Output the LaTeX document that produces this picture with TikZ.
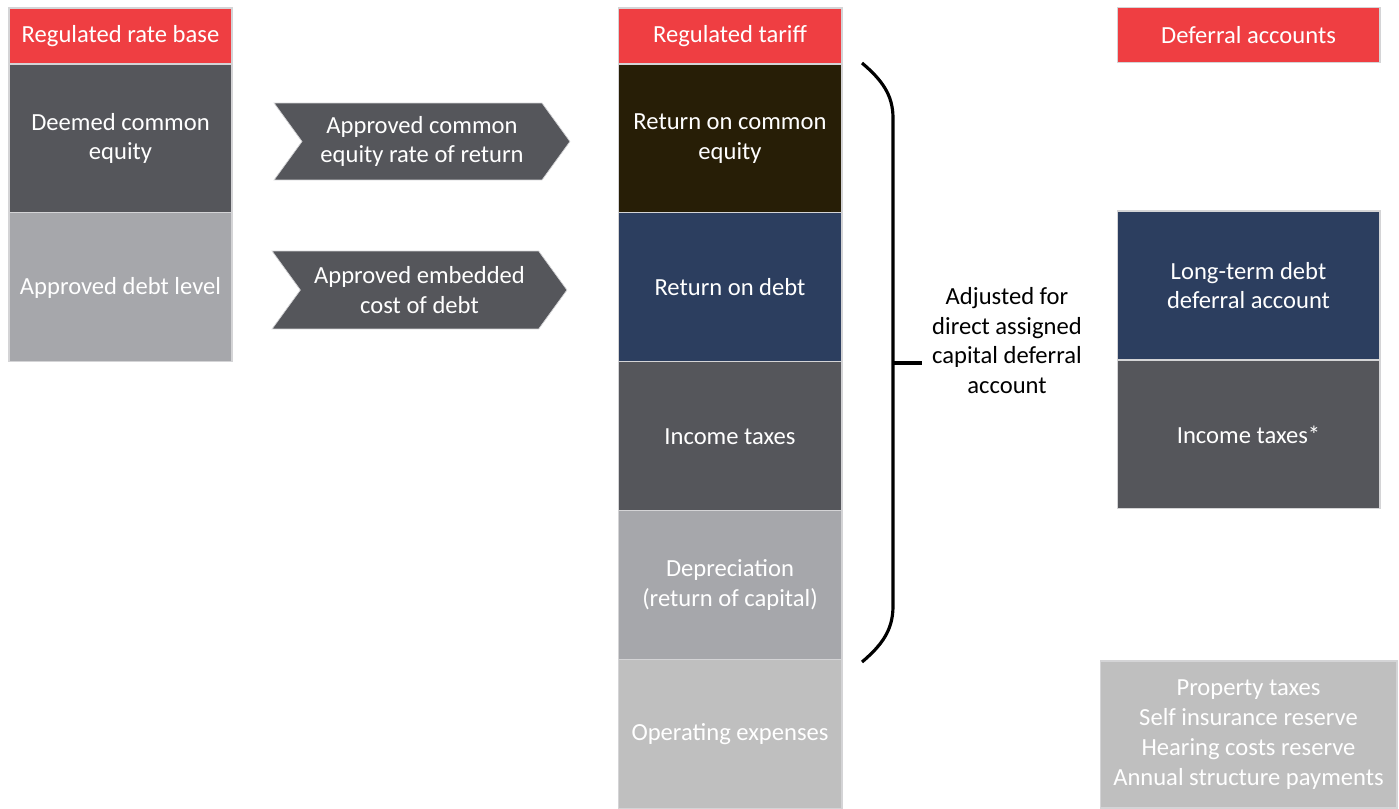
\documentclass[tikz,border=0pt]{standalone}
\usepackage{fontspec}
\setmainfont{Carlito}
\usetikzlibrary{positioning,shapes.symbols}

\definecolor{hdred}{HTML}{EF3E42}
\definecolor{slate}{HTML}{55565B}
\definecolor{ash}{HTML}{A6A7AB}
\definecolor{umber}{HTML}{271E06}
\definecolor{navy}{HTML}{2C3E5F}
\definecolor{pale}{HTML}{BFBFBF}
\definecolor{rim}{HTML}{D4D4D6}

\tikzset{
  cell/.style={rectangle, draw=rim, line width=0.6pt, inner sep=0pt, outer sep=0pt,
    align=center, text=white, font=\fontsize{14}{17}\selectfont},
  lcol/.style={cell, minimum width=4.46cm, minimum height=2.98cm},
  mcol/.style={cell, minimum width=4.48cm, minimum height=2.98cm},
  rcol/.style={cell, minimum width=5.26cm, minimum height=2.98cm},
  head/.style={fill=hdred, minimum height=1.12cm},
  chevron/.style={signal, signal to=east, signal from=west, signal pointer angle=108,
    fill=slate, draw=rim, line width=0.4pt, inner sep=0pt, align=center, text=white,
    font=\fontsize{14}{17}\selectfont}
}

\begin{document}
\begin{tikzpicture}[x=0.02cm, y=-0.02cm]
\useasboundingbox (0,0) rectangle (1399,808);

% rate base column
\node (rbhead) at (120.5,36) [lcol, head] {Regulated rate base};
\node (equity) [lcol, fill=slate, below=0pt of rbhead] {Deemed common\\equity};
\node (debtlvl) [lcol, fill=ash, below=0pt of equity] {Approved debt level};

% the two rates
\node (roe) at (422,141.5) [chevron, minimum width=5.92cm, minimum height=1.54cm] {Approved common\\equity rate of return};
\node (cod) at (419.5,290) [chevron, minimum width=5.9cm, minimum height=1.56cm] {Approved embedded\\cost of debt};

% tariff column
\node (tfhead) at (730,36) [mcol, head] {Regulated tariff};
\node (retequity) [mcol, fill=umber, below=0pt of tfhead] {Return on common\\equity};
\node (retdebt) [mcol, fill=navy, below=0pt of retequity] {Return on debt};
\node (inctax) [mcol, fill=slate, below=0pt of retdebt] {Income taxes};
\node (deprec) [mcol, fill=ash, below=0pt of inctax] {Depreciation\\(return of capital)};
\node (opex) [mcol, fill=pale, below=0pt of deprec] {Operating expenses};

% bracket
\coordinate (brtop) at (862,63);
\coordinate (brbot) at (862,662);
\coordinate (brmid) at (893,363);
\coordinate (tick) at (922,363);
\draw [black, line width=1.8pt] (brtop) .. controls (882,80) and (893,95) .. (893,118)
  -- (893,606) .. controls (893,630) and (882,645) .. (brbot);
\draw [black, line width=1.8pt] (brmid) -- (tick);
\node (adjust) at (1007,340.5) [align=center, font=\fontsize{14}{17}\selectfont] {Adjusted for\\direct assigned\\capital deferral\\account};

% deferral column
\node (dfhead) at (1248.5,35) [rcol, head, minimum height=1.1cm] {Deferral accounts};
\node (ltdebt) at (1248.5,285.5) [rcol, fill=navy] {Long-term debt\\deferral account};
\node (taxstar) [rcol, fill=slate, below=0pt of ltdebt] {Income taxes*};
\node (reserves) at (1248.5,734.5) [cell, fill=pale, minimum width=5.94cm, minimum height=2.94cm] {Property taxes\\Self insurance reserve\\Hearing costs reserve\\Annual structure payments};

\end{tikzpicture}
\end{document}
